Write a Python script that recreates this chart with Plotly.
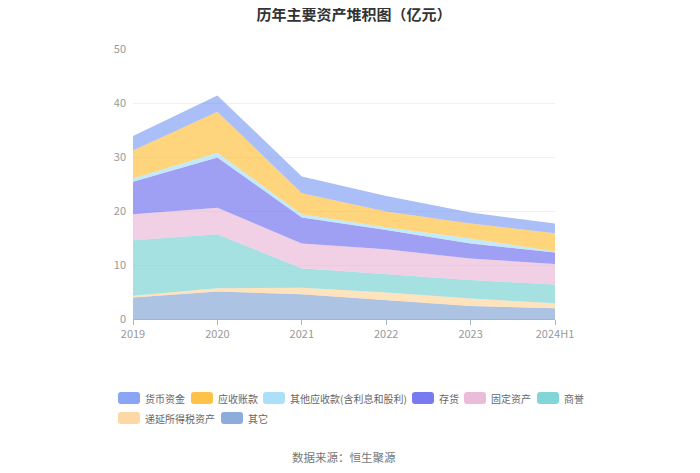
import plotly.graph_objects as go

years = ["2019", "2020", "2021", "2022", "2023", "2024H1"]

huobi = [2.7, 3.0, 3.1, 2.9, 2.0, 1.8]          # 货币资金
yingshou = [5.2, 7.6, 3.9, 2.9, 2.8, 3.4]       # 应收账款
qitayingshou = [0.6, 0.9, 0.6, 0.5, 0.9, 0.2]   # 其他应收款(含利息和股利)
cunhuo = [6.0, 9.3, 4.8, 3.6, 2.8, 2.1]         # 存货
guding = [4.8, 4.9, 4.6, 4.6, 4.0, 3.8]         # 固定资产
shangyu = [10.3, 10.0, 3.6, 3.4, 3.4, 3.5]      # 商誉
diyan = [0.3, 0.6, 1.2, 1.4, 1.4, 0.9]          # 递延所得税资产
qita = [4.0, 5.1, 4.6, 3.5, 2.4, 2.0]           # 其它

# name, values, colour, legend slot (swatch left x, row centre y) in window pixels
series = [
    ("其它", qita, "127,163,214", (221, 418)),
    ("递延所得税资产", diyan, "253,212,154", (118, 418)),
    ("商誉", shangyu, "118,209,211", (537, 398)),
    ("固定资产", guding, "233,181,214", (464, 398)),
    ("存货", cunhuo, "107,108,238", (412, 398)),
    ("其他应收款(含利息和股利)", qitayingshou, "163,221,248", (263, 398)),
    ("应收账款", yingshou, "253,189,53", (191, 398)),
    ("货币资金", huobi, "124,155,242", (118, 398)),
]

font = "Noto Sans CJK SC"
OFF = 8  # page body margin
W, H = 700 - OFF, 473 - OFF
L, T, R, B = 133 - OFF, 49 - OFF, 145, 154
pw = W - L - R
ph = H - T - B


def px(xs):
    return (xs - OFF - L) / pw


def py(ys):
    return -(ys - OFF - (H - B)) / ph


def rounded_rect(x0, y0, x1, y1, r):
    # window-pixel box -> paper-coordinate rounded rectangle path
    X = lambda v: f"{px(v):.5f}"
    Y = lambda v: f"{py(v):.5f}"
    return (f"M{X(x0 + r)},{Y(y0)} L{X(x1 - r)},{Y(y0)} Q{X(x1)},{Y(y0)} {X(x1)},{Y(y0 + r)} "
            f"L{X(x1)},{Y(y1 - r)} Q{X(x1)},{Y(y1)} {X(x1 - r)},{Y(y1)} "
            f"L{X(x0 + r)},{Y(y1)} Q{X(x0)},{Y(y1)} {X(x0)},{Y(y1 - r)} "
            f"L{X(x0)},{Y(y0 + r)} Q{X(x0)},{Y(y0)} {X(x0 + r)},{Y(y0)} Z")


fig = go.Figure()
shapes = []
annotations = []
for name, vals, rgb, (sx, sy) in series:
    fig.add_trace(go.Scatter(
        x=years, y=vals, name=name, mode="lines", showlegend=False,
        stackgroup="one", line=dict(width=0, color=f"rgb({rgb})"),
        fillcolor=f"rgba({rgb},0.65)",
    ))
    shapes.append(dict(type="path", xref="paper", yref="paper",
                       path=rounded_rect(sx, sy - 6, sx + 22, sy + 6, 3),
                       fillcolor=f"rgba({rgb},0.9)", line=dict(width=0)))
    annotations.append(dict(text=name, xref="paper", yref="paper", x=px(sx + 25), y=py(sy),
                            xanchor="left", yanchor="middle", showarrow=False,
                            font=dict(family=font, size=10, color="#666666")))

annotations.append(dict(text="数据来源：恒生聚源", x=0.5, xref="paper", xanchor="center",
                        y=py(457), yref="paper", yanchor="middle", showarrow=False,
                        font=dict(family=font, size=11.5, color="#777777")))

fig.update_layout(
    width=W, height=H,
    margin=dict(l=L, r=R, t=T, b=B),
    paper_bgcolor="white", plot_bgcolor="white",
    font=dict(family=font, color="#999999", size=11),
    title=dict(text="历年主要资产堆积图（亿元）", x=0.5, xanchor="center",
               yref="container", y=1, yanchor="top", pad=dict(t=1),
               font=dict(family=font, size=15, color="#333333", weight="bold")),
    showlegend=False,
    xaxis=dict(type="category", range=[0, 5], showgrid=False, showline=True,
               linecolor="#aab4c8", ticks="outside", ticklen=5, tickcolor="#aab4c8",
               tickfont=dict(color="#999999", size=11), zeroline=False),
    yaxis=dict(range=[0, 50], dtick=10, showgrid=True, gridcolor="#eef0f6",
               showline=False, zeroline=False, tickfont=dict(color="#999999", size=11),
               ticklabelstandoff=6),
    shapes=shapes,
    annotations=annotations,
)

fig.write_html("out.html")
